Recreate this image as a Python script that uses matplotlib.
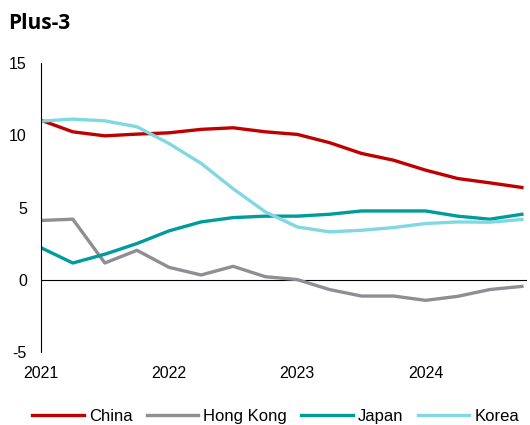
import matplotlib
matplotlib.use("Agg")
import matplotlib.pyplot as plt

plt.rcParams["font.family"] = ["Liberation Sans", "DejaVu Sans"]
plt.rcParams["axes.unicode_minus"] = False

# quarterly, 2021Q1 .. 2024Q4
quarters = list(range(16))
year_ticks = [0, 4, 8, 12]
year_labels = ["2021", "2022", "2023", "2024"]

china = [11.06, 10.25, 9.97, 10.09, 10.18, 10.42, 10.53, 10.25,
         10.07, 9.5, 8.75, 8.28, 7.59, 7.01, 6.71, 6.39]
hong_kong = [4.1, 4.19, 1.15, 2.03, 0.85, 0.32, 0.92, 0.2,
             0.0, -0.69, -1.14, -1.14, -1.44, -1.16, -0.69, -0.47]
japan = [2.22, 1.15, 1.76, 2.5, 3.38, 4.0, 4.3, 4.4,
         4.4, 4.53, 4.76, 4.76, 4.76, 4.4, 4.19, 4.53]
korea = [10.99, 11.13, 11.01, 10.6, 9.44, 8.06, 6.3, 4.7,
         3.65, 3.31, 3.42, 3.61, 3.89, 4.0, 3.98, 4.17]

series = [("China", china, "#C00000"),
          ("Hong Kong", hong_kong, "#8E8E93"),
          ("Japan", japan, "#009C9C"),
          ("Korea", korea, "#80D8E2")]

fig = plt.figure(figsize=(5.3, 4.25), dpi=100)
ax = fig.add_axes([0.0768, 0.1725, 0.9170, 0.6785])

for name, vals, col in series:
    ax.plot(quarters, vals, color=col, lw=2.4, label=name, solid_joinstyle="round")

ax.axhline(0, color="black", lw=0.8, zorder=0)
ax.set_xlim(0, 15.15)
ax.set_ylim(-5, 15)
ax.set_yticks([-5, 0, 5, 10, 15])
ax.set_xticks(year_ticks)
ax.set_xticklabels(year_labels)
ax.tick_params(length=0, labelsize=11.5)
ax.tick_params(axis="y", pad=10)
ax.tick_params(axis="x", pad=10)
for s in ["top", "right", "bottom"]:
    ax.spines[s].set_visible(False)
ax.spines["left"].set_linewidth(0.8)

fig.text(0.015, 0.945, "Plus-3", fontsize=15, fontweight="bold", va="center",
         family=["Open Sans", "DejaVu Sans"])

fig.legend(loc="center", bbox_to_anchor=(0.52, 0.02), ncol=4, frameon=False,
           fontsize=12, handlelength=3.1, handletextpad=0.3, columnspacing=0.85)

fig.savefig("out.png", dpi=100)
